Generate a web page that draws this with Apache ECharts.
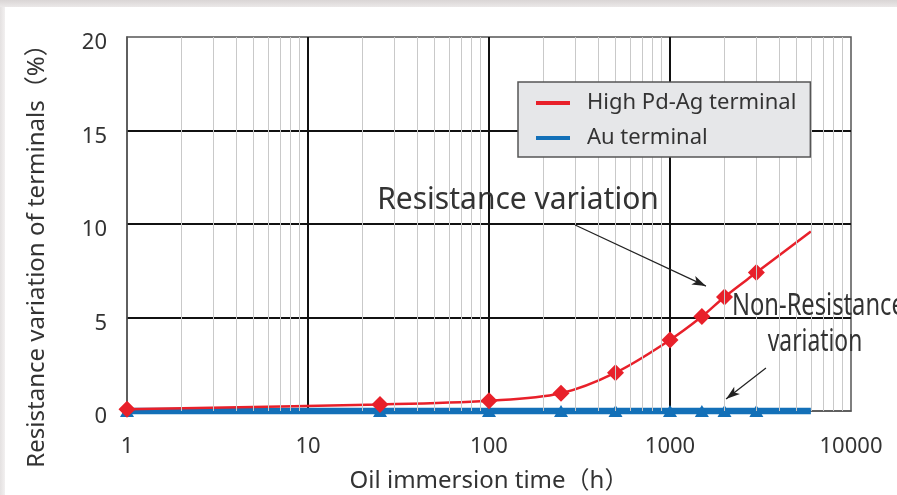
<!DOCTYPE html>
<html>
<head>
<meta charset="utf-8">
<script src="https://cdn.jsdelivr.net/npm/echarts@6/dist/echarts.min.js"></script>
<style>
  html, body { margin: 0; padding: 0; background: #fff; }
  #chart { width: 897px; height: 495px; }
</style>
</head>
<body>
<div id="chart"></div>
<script>
// oil immersion time (h) and resistance variation (%)
const times = [1, 25, 100, 250, 500, 1000, 1500, 2000, 3000, 6000];
const pdAgValues = [0.1, 0.35, 0.55, 0.95, 2.05, 3.8, 5.05, 6.1, 7.4, 9.6];
const auValues = [0, 0, 0, 0, 0, 0, 0, 0, 0, 0];
const lastPointHasMarker = false;

const yTicks = [0, 5, 10, 15, 20];
const minorX = [2, 3, 4, 5, 6, 7, 8, 9, 20, 30, 40, 50, 60, 70, 80, 90,
  200, 300, 400, 500, 600, 700, 800, 900, 2000, 3000, 4000, 5000, 6000, 7000, 8000, 9000];

const RED = '#e8202a';
const BLUE = '#1370b8';
const TXT = '#333333';
const FONT = '"Noto Sans", "Noto Sans CJK JP", sans-serif';

function toData(values) {
  return values.map((v, i) => {
    const item = { value: [times[i], v] };
    if (i === values.length - 1 && !lastPointHasMarker) item.symbol = 'none';
    return item;
  });
}

const chart = echarts.init(document.getElementById('chart'));

const option = {
  backgroundColor: '#fff',
  animation: false,
  textStyle: { fontFamily: FONT, color: TXT },
  grid: {
    left: 127, right: 46, top: 37, bottom: 84,
    outerBoundsMode: 'none',
    containLabel: false,
    show: true, borderColor: '#555', borderWidth: 1.5, backgroundColor: 'transparent'
  },
  legend: {
    data: ['High Pd-Ag terminal', 'Au terminal'],
    orient: 'vertical',
    left: 518, top: 82,
    z: 20,
    backgroundColor: '#e6e7e9',
    borderColor: '#555',
    borderWidth: 1.5,
    borderRadius: 0,
    padding: [10, 14, 8, 18],
    itemGap: 13,
    itemWidth: 34,
    itemHeight: 4,
    icon: 'rect',
    textStyle: { fontFamily: FONT, fontSize: 22, color: TXT, padding: [0, 0, 0, 12] }
  },
  xAxis: {
    type: 'log', logBase: 10, min: 1, max: 10000,
    name: 'Oil immersion time（h）',
    nameLocation: 'middle', nameGap: 58,
    nameTextStyle: { fontFamily: FONT, fontSize: 24, color: TXT },
    axisLine: { lineStyle: { color: '#555', width: 1.5 } },
    axisTick: { show: false },
    axisLabel: { fontFamily: FONT, fontSize: 22, color: TXT, margin: 25,
      formatter: v => String(Math.round(v)) },
    splitLine: { show: true, showMinLine: false, showMaxLine: false, lineStyle: { color: '#111', width: 2 } }
  },
  yAxis: {
    type: 'value', min: 0, max: 20, interval: 5,
    axisLine: { show: true, lineStyle: { color: '#555', width: 1.5 } },
    axisTick: { show: false },
    axisLabel: {
      fontFamily: FONT, fontSize: 22, color: TXT, margin: 20,
      // empty spacer line on top pushes the digits a few px below the grid line
      formatter: v => yTicks.includes(v) ? '{s| }\n{v|' + v + '}' : '',
      rich: {
        s: { fontSize: 8, lineHeight: 12 },
        v: { fontFamily: FONT, fontSize: 22, lineHeight: 22, color: TXT }
      }
    },
    splitLine: { show: true, showMinLine: false, showMaxLine: false, lineStyle: { color: '#111', width: 2 } }
  },
  graphic: [
    // card frame shading
    { type: 'rect', left: 0, top: 0, shape: { width: 897, height: 7 }, z: 100,
      style: { fill: new echarts.graphic.LinearGradient(0, 0, 0, 1, [
        { offset: 0, color: '#d9d5d5' }, { offset: 1, color: '#ebe8e8' }]) } },
    { type: 'rect', left: 0, top: 7, shape: { width: 5, height: 488 }, z: 100,
      style: { fill: new echarts.graphic.LinearGradient(0, 0, 1, 0, [
        { offset: 0, color: '#e4e1e1' }, { offset: 1, color: '#f2f0f0' }]) } },
    // y axis name
    { type: 'text', x: 37, y: 250, rotation: Math.PI / 2, z: 10,
      style: { text: 'Resistance variation of terminals（%）', font: '24px ' + FONT,
        fill: TXT, align: 'center', verticalAlign: 'middle' } },
    // annotations
    { type: 'text', x: 518, y: 200, z: 10,
      style: { text: 'Resistance variation', font: '30px ' + FONT,
        fill: TXT, align: 'center', verticalAlign: 'middle' } },
    { type: 'text', x: 732, y: 306, scaleX: 0.79, z: 10,
      style: { text: 'Non-Resistance', font: '30px ' + FONT,
        fill: TXT, align: 'left', verticalAlign: 'middle' } },
    { type: 'text', x: 815, y: 342, scaleX: 0.76, z: 10,
      style: { text: 'variation', font: '30px ' + FONT,
        fill: TXT, align: 'center', verticalAlign: 'middle' } }
  ],
  series: [
    {
      name: 'minor grid', type: 'line', data: [], silent: true,
      markLine: {
        silent: true, symbol: ['none', 'none'], label: { show: false },
        lineStyle: { color: '#c9c9c9', width: 1, type: 'solid' },
        data: minorX.map(v => ({ xAxis: v }))
      }
    },
    {
      name: 'Au terminal', type: 'line', data: toData(auValues),
      color: BLUE, clip: false, z: 3,
      lineStyle: { color: BLUE, width: 6.5 },
      symbol: 'triangle', symbolSize: [14, 12],
      itemStyle: { color: BLUE }
    },
    {
      name: 'High Pd-Ag terminal', type: 'line', data: toData(pdAgValues),
      color: RED, clip: false, z: 4, smooth: 0.35,
      lineStyle: { color: RED, width: 2.5 },
      symbol: 'diamond', symbolSize: [17, 17],
      itemStyle: { color: RED },
      markLine: {
        silent: true, symbol: ['none', 'arrow'], symbolSize: [7, 14],
        label: { show: false },
        lineStyle: { color: '#222', width: 1.2, type: 'solid' },
        data: [
          [{ coord: [299, 9.95] }, { coord: [1580, 6.68] }],
          [{ coord: [3390, 2.3] }, { coord: [2040, 0.64] }]
        ]
      }
    }
  ]
};

chart.setOption(option);
</script>
</body>
</html>
